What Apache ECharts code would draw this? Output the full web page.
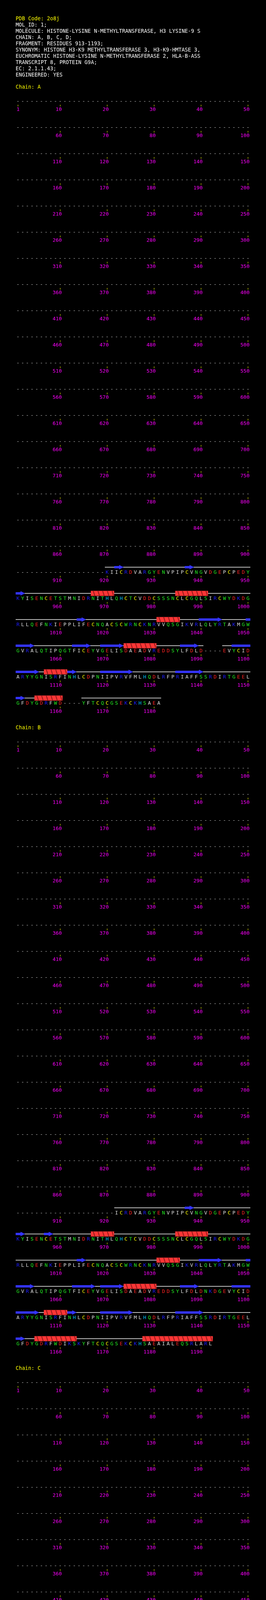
<!DOCTYPE html>
<html><head><meta charset="utf-8">
<script src="https://cdn.jsdelivr.net/npm/echarts@6/dist/echarts.min.js"></script>
<style>html,body{margin:0;padding:0;background:#000;}#c{width:680px;height:6784px;}</style>
</head><body><div id="c"></div>
<script>
// ---------------- data ----------------
const pdbCode = '2o8j';
const headerLines = [
  'MOL_ID: 1;',
  'MOLECULE: HISTONE-LYSINE N-METHYLTRANSFERASE, H3 LYSINE-9 S',
  'CHAIN: A, B, C, D;',
  'FRAGMENT: RESIDUES 913-1193;',
  'SYNONYM: HISTONE H3-K9 METHYLTRANSFERASE 3, H3-K9-HMTASE 3,',
  'EUCHROMATIC HISTONE-LYSINE N-METHYLTRANSFERASE 2, HLA-B-ASS',
  'TRANSCRIPT 8, PROTEIN G9A;',
  'EC: 2.1.1.43;',
  'ENGINEERED: YES'
];
const chainNames = ['A', 'B', 'C', 'D'];
// sequence of residues 920 .. 1192
const seqStart = 920;
const sequence =
  'KIICRDVARGYENVPIPCVNGVDGEPCPEDY' +
  'KYISENCETSTMNIDRNITHLQHCTCVDDCSSSNCLCGQLSIRCWYDKDG' +
  'RLLQEFNKIEPPLIFECNQACSCWRNCKNRVVQSGIKVRLQLYRTAKMGW' +
  'GVRALQTIPQGTFICEYVGELISDAEADVREDDSYLFDLDNKDGEVYCID' +
  'ARYYGNISRFINHLCDPNIIPVRVFMLHQDLRFPRIAFFSSRDIRTGEEL' +
  'GFDYGDRFWDIKSKYFTCQCGSEKCKHSAEAIALEQSRLARL';
// observed residue ranges per chain
const observedA = [[920, 1090], [1095, 1160], [1165, 1181]];
const observedB = [[922, 1192]];
const observedC = [[922, 1089], [1095, 1188]];
const observedD = [[922, 1089], [1096, 1159], [1166, 1181]];
// secondary structure per chain
const strandsA = [[922,923],[937,938],[951,952],[1014,1015],[1040,1044],[1050,1054],[1063,1066],[1069,1073],[1086,1089],[1097,1105],[1112,1113],[1119,1125],[1135,1140],[1151,1152]];
const strandsB = [[937,938],[951,952],[957,958],[1014,1015],[1040,1044],[1050,1054],[1063,1067],[1069,1073],[1086,1089],[1097,1105],[1112,1113],[1119,1125],[1135,1140],[1151,1152]];
const strandsC = [[937,938],[951,952],[957,958],[1014,1015],[1040,1044],[1050,1054],[1063,1067],[1069,1073],[1086,1088],[1097,1105],[1112,1113],[1119,1125],[1135,1140],[1151,1152]];
const strandsD = [[937,938],[951,952],[957,958],[1014,1015],[1040,1044],[1050,1054],[1063,1066],[1069,1073],[1086,1088],[1097,1105],[1112,1113],[1119,1125],[1135,1140],[1151,1152]];
const helicesA = [[967,971],[985,991],[1031,1035],[1074,1080],[1107,1111],[1155,1160]];
const helicesB = [[967,971],[985,991],[1031,1035],[1074,1080],[1107,1111],[1155,1163],[1178,1192]];
const helicesC = [[967,971],[985,991],[1031,1035],[1074,1078],[1107,1111],[1155,1163],[1178,1188]];
const helicesD = [[967,971],[985,991],[1031,1035],[1074,1080],[1107,1111]];

const chainObserved = [observedA, observedB, observedC, observedD];
const chainStrands = [strandsA, strandsB, strandsC, strandsD];
const chainHelices = [helicesA, helicesB, helicesC, helicesD];

// ---------------- layout / style ----------------
const PER_ROW = 50, ROWS = 24, ROW_H = 67, CHAIN_H = 1640, FIRST_ROW_Y = 260;
const LEFT = 40, CELL = 12;
const FONT_FAMILY = '"DejaVu Sans Mono", "Liberation Mono", monospace';
const RES_FONT = '13px ' + FONT_FAMILY;
const NUM_FONT = '13px ' + FONT_FAMILY;
const HDR_FONT = '13.3px ' + FONT_FAMILY;
const COLORS = {
  blue: '#1c1cff', cyan: '#00c0ff', red: '#ff2222', yellow: '#ffff00',
  green: '#22ee22', grey: '#dcdcdc', dash: '#c8c8c8'
};
function colorOf(ch) {
  if ('KR'.includes(ch)) return COLORS.blue;
  if (ch === 'H') return COLORS.cyan;
  if ('DE'.includes(ch)) return COLORS.red;
  if (ch === 'C') return COLORS.yellow;
  if ('STNQGYW'.includes(ch)) return COLORS.green;
  if (ch === '-') return COLORS.dash;
  return COLORS.grey;
}
function lastObs(k) { const o = chainObserved[k]; return o[o.length - 1][1]; }
function isObserved(k, n) { return chainObserved[k].some(r => n >= r[0] && n <= r[1]); }
function residueChar(k, n) { return isObserved(k, n) ? sequence[n - seqStart] : '-'; }
function rowOf(n) { return Math.floor((n - 1) / PER_ROW); }
function posOf(n) { return (n - 1) % PER_ROW + 1; }
// split a residue range into row pieces [startPos, endPos, row, isLastPiece]
function splitRange(s, e) {
  const out = [];
  let n = s;
  while (n <= e) {
    const r = rowOf(n);
    const rowEnd = Math.min(e, (r + 1) * PER_ROW);
    out.push([posOf(n), posOf(rowEnd), r, rowEnd === e ? 1 : 0]);
    n = rowEnd + 1;
  }
  return out;
}

// ---------------- render functions ----------------
function txt(text, x, y, fill, font, align) {
  return { type: 'text', silent: true, style: { text, x, y, fill, font,
    align: align, textAlign: align, verticalAlign: 'middle', textVerticalAlign: 'middle' } };
}
function letterRenderer(k) {
  return function (params, api) {
    const n = api.value(2);
    const ch = residueChar(k, n);
    const p = api.coord([api.value(0), api.value(1)]);
    return txt(ch, p[0], p[1], colorOf(ch), RES_FONT, 'center');
  };
}
function tickRenderer(params, api) {
  const n = api.value(2);
  const p = api.coord([api.value(0), api.value(1)]);
  return { type: 'group', children: [
    { type: 'rect', silent: true, shape: { x: Math.round(p[0]) - 0.5, y: p[1] + 8, width: 1, height: 4.5 }, style: { fill: '#ffff00' } },
    txt(String(n), p[0] + 4, p[1] + 21, '#ff00ff', NUM_FONT, 'right')
  ] };
}
function lineRenderer(params, api) {
  const a = api.coord([api.value(0) - 0.5, api.value(2)]);
  const b = api.coord([api.value(1) + 0.5, api.value(2)]);
  const y = a[1] - 14;
  return { type: 'rect', silent: true, shape: { x: a[0], y: y - 0.75, width: b[0] - a[0], height: 1.5 }, style: { fill: '#ffffff' } };
}
function strandRenderer(params, api) {
  const a = api.coord([api.value(0) - 0.5, api.value(2)]);
  const b = api.coord([api.value(1) + 0.5, api.value(2)]);
  const head = api.value(3);
  const y = a[1] - 14, bh = 3.1, hh = 5.7, hl = 11.5;
  const x1 = a[0], x2 = b[0];
  let pts;
  if (head) {
    const xh = Math.max(x1, x2 - hl);
    pts = [[x1, y - bh], [xh, y - bh], [xh, y - hh], [x2, y], [xh, y + hh], [xh, y + bh], [x1, y + bh]];
  } else {
    pts = [[x1, y - bh], [x2, y - bh], [x2, y + bh], [x1, y + bh]];
  }
  return { type: 'polygon', silent: true, shape: { points: pts }, style: { fill: '#3333ff' } };
}
function helixRenderer(params, api) {
  const s = api.value(0), e = api.value(1), row = api.value(2);
  const a = api.coord([s - 0.5, row]);
  const b = api.coord([e + 0.5, row]);
  const w = api.size([1, 0])[0];
  const y = a[1] - 14, hh = 6.5;
  const children = [{ type: 'rect', silent: true, shape: { x: a[0], y: y - hh, width: b[0] - a[0], height: 2 * hh }, style: { fill: '#ff3636' } }];
  for (let i = 0; i <= e - s; i++) {
    const xl = a[0] + i * w;
    children.push({ type: 'polygon', silent: true, shape: { points: [
      [xl + w * 0.42, y - hh], [xl + w * 0.64, y - hh], [xl + w * 0.98, y + hh], [xl + w * 0.76, y + hh]
    ] }, style: { fill: '#9c1e1e' } });
  }
  return { type: 'group', children };
}

// ---------------- build option ----------------
const grids = [], xAxes = [], yAxes = [], series = [];
chainNames.forEach((name, k) => {
  grids.push({ left: LEFT, width: PER_ROW * CELL, top: FIRST_ROW_Y - ROW_H / 2 + k * CHAIN_H, height: ROWS * ROW_H });
  xAxes.push({ type: 'value', gridIndex: k, min: 0.5, max: PER_ROW + 0.5, show: false });
  yAxes.push({ type: 'value', gridIndex: k, min: -0.5, max: ROWS - 0.5, inverse: true, show: false });

  const last = lastObs(k);
  const letters = [], ticks = [];
  for (let n = 1; n <= last; n++) {
    letters.push([posOf(n), rowOf(n), n]);
    if (n === 1 || n % 10 === 0) ticks.push([posOf(n), rowOf(n), n]);
  }
  const lines = [];
  chainObserved[k].forEach(r => splitRange(r[0], r[1]).forEach(p => lines.push([p[0], p[1], p[2]])));
  const strands = [];
  chainStrands[k].forEach(r => splitRange(r[0], r[1]).forEach(p => strands.push(p)));
  const helices = [];
  chainHelices[k].forEach(r => splitRange(r[0], r[1]).forEach(p => helices.push([p[0], p[1], p[2]])));

  const common = { type: 'custom', xAxisIndex: k, yAxisIndex: k, silent: true, animation: false, clip: false };
  series.push(Object.assign({}, common, { name: name + '-line', z: 1, data: lines, encode: { x: [0, 1], y: 2 }, renderItem: lineRenderer }));
  series.push(Object.assign({}, common, { name: name + '-strand', z: 2, data: strands, encode: { x: [0, 1], y: 2 }, renderItem: strandRenderer }));
  series.push(Object.assign({}, common, { name: name + '-helix', z: 2, data: helices, encode: { x: [0, 1], y: 2 }, renderItem: helixRenderer }));
  series.push(Object.assign({}, common, { name: name + '-seq', z: 3, data: letters, encode: { x: 0, y: 1 }, renderItem: letterRenderer(k) }));
  series.push(Object.assign({}, common, { name: name + '-ticks', z: 3, data: ticks, encode: { x: 0, y: 1 }, renderItem: tickRenderer }));
});

const graphic = [];
function hdr(text, y, fill) {
  graphic.push({ type: 'text', x: LEFT, y: y, silent: true, style: { text, fill, font: HDR_FONT,
    align: 'left', textAlign: 'left', verticalAlign: 'middle', textVerticalAlign: 'middle' } });
}
hdr('PDB Code: ' + pdbCode, 48.3, '#ffff00');
headerLines.forEach((t, i) => hdr(t, 64.3 + 16 * i, '#ffffff'));
chainNames.forEach((name, k) => hdr('Chain: ' + name, 224 + k * CHAIN_H, '#ffff00'));

const chart = echarts.init(document.getElementById('c'), null, { renderer: 'canvas' });
chart.setOption({
  backgroundColor: '#000000',
  animation: false,
  grid: grids, xAxis: xAxes, yAxis: yAxes,
  graphic: graphic,
  series: series
});
</script>
</body></html>
